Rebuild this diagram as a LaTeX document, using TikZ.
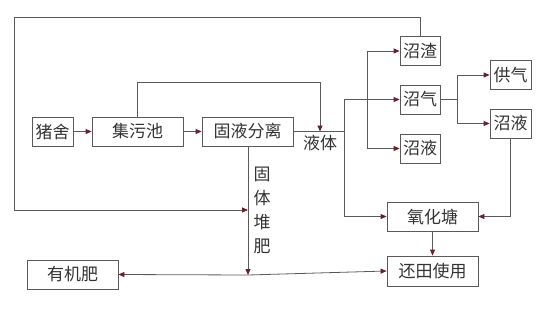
\documentclass[tikz,border=0pt]{standalone}
\usepackage{fontspec}
\usetikzlibrary{arrows.meta}
\newfontfamily\cjk{Noto Sans CJK SC}
\definecolor{linegray}{HTML}{5A5A5A}
\definecolor{tipred}{HTML}{6B1E2C}
\definecolor{textgray}{HTML}{333333}
\tikzset{
  box/.style={draw=linegray,thick,inner sep=0pt,minimum height=29pt,
    text=textgray,font=\cjk\fontsize{17}{17}\selectfont},
  tag/.style={text=textgray,font=\cjk\fontsize{17}{17}\selectfont},
  flow/.style={draw=linegray,thick,-{Triangle[length=6pt,width=5pt,color=tipred]}},
  wire/.style={draw=linegray,thick}
}
\begin{document}
\begin{tikzpicture}[x=1pt,y=-1pt]
  \useasboundingbox (0,0) rectangle (554,316);
  % boxes
  \node[box,minimum width=41pt] (zhushe) at (52.5,131.5) {猪舍};
  \node[box,minimum width=91pt] (jiwuchi) at (137.5,131.5) {集污池};
  \node[box,minimum width=91pt] (guye) at (247.5,131.5) {固液分离};
  \node[box,minimum width=40pt] (zhazha) at (420,51) {沼渣};
  \node[box,minimum width=40pt] (zhaoqi) at (420,99.5) {沼气};
  \node[box,minimum width=40pt] (zhaoyeA) at (420,148.5) {沼液};
  \node[box,minimum width=41pt] (gongqi) at (510.5,75) {供气};
  \node[box,minimum width=41pt] (zhaoyeB) at (510.5,123.5) {沼液};
  \node[box,minimum width=91pt] (yanghua) at (432.5,216.5) {氧化塘};
  \node[box,minimum width=91pt,minimum height=30pt] (huantian) at (432.5,271) {还田使用};
  \node[box,minimum width=91pt] (youjifei) at (72.5,274.5) {有机肥};
  % labels
  \node[tag] (yeti) at (320,143.5) {液体};
  \foreach \c [count=\i] in {固,体,堆,肥}
    \node[tag] (gu\i) at (262,150+24*\i) {\c};
  % junctions
  \coordinate (ye) at (320,131.5);
  \coordinate (split) at (344,131.5);
  \coordinate (dui) at (248,210);
  \coordinate (fei) at (248,275);
  % main line
  \draw[flow] (zhushe) -- (jiwuchi);
  \draw[flow] (jiwuchi) -- (guye);
  \draw[flow] (jiwuchi.north) |- (320,82) -- (ye);
  \draw[wire] (guye.east) -- (split);
  \draw[wire] (344,99.5) -- (344,216.5);
  \draw[flow] (344,99.5) -- (zhaoqi.west);
  \draw[flow] (344,216.5) -- (yanghua.west);
  \draw[wire] (367,51) -- (367,148.5);
  \draw[flow] (367,51) -- (zhazha.west);
  \draw[flow] (367,148.5) -- (zhaoyeA.west);
  % biogas branch
  \draw[wire] (zhaoqi.east) -- (457,99.5);
  \draw[wire] (457,75) -- (457,123.5);
  \draw[flow] (457,75) -- (gongqi.west);
  \draw[flow] (457,123.5) -- (zhaoyeB.west);
  \draw[flow] (zhaoyeB.south) |- (yanghua.east);
  \draw[flow] (yanghua) -- (huantian);
  % solids
  \draw[flow] (zhazha.north) |- (14,17) |- (dui);
  \draw[flow] (guye.south -| fei) -- (fei);
  \draw[flow] (fei) -- (youjifei.east);
  \draw[flow] (fei) -- (huantian.west);
\end{tikzpicture}
\end{document}
